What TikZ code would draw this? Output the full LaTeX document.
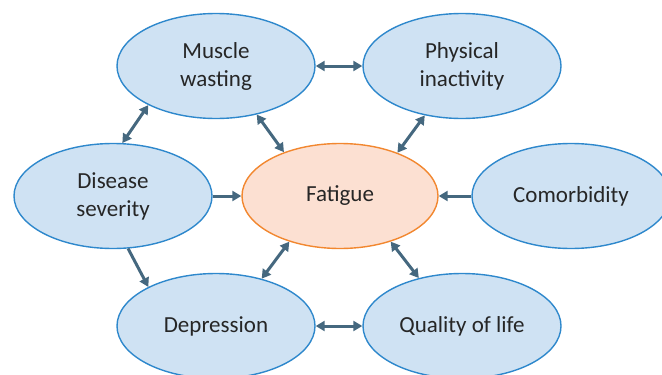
\documentclass[tikz,border=0pt]{standalone}
\usepackage{fontspec}
\setmainfont{Carlito}
\usetikzlibrary{arrows.meta,shapes.geometric}
\definecolor{bubblefill}{HTML}{CFE2F3}
\definecolor{bubbleline}{HTML}{2E88CC}
\definecolor{focusfill}{HTML}{FCE0D2}
\definecolor{focusline}{HTML}{F2872F}
\definecolor{linkcol}{HTML}{45687F}
\definecolor{textcol}{HTML}{262626}
\tikzset{
  bubble/.style={ellipse, draw=bubbleline, fill=bubblefill, line width=1.4pt,
    minimum width=198pt, minimum height=105pt, align=center, text=textcol,
    font=\fontsize{23}{28}\selectfont},
  focus/.style={bubble, draw=focusline, fill=focusfill, minimum width=196pt},
  link/.style={line width=3pt, draw=linkcol,
    {Triangle[length=9pt,width=10pt]}-{Triangle[length=9pt,width=10pt]}},
  cause/.style={line width=3pt, draw=linkcol, -{Triangle[length=9pt,width=10pt]}}
}
\begin{document}
\begin{tikzpicture}[x=1pt,y=-1pt]
  \clip (0,0) rectangle (662,375);
  \useasboundingbox (0,0) rectangle (662,375);

  % Factors
  \node[bubble] (mw)  at (216,66)  {Muscle\\wasting};
  \node[bubble] (pi)  at (462,66)  {Physical\\inactivity};
  \node[bubble] (ds)  at (113,196) {Disease\\severity};
  \node[focus]  (fat) at (340,196) {Fatigue};
  \node[bubble] (cm)  at (571,196) {Comorbidity};
  \node[bubble] (dep) at (216,326) {Depression};
  \node[bubble] (qol) at (462,326) {Quality of life};

  % Two-way links
  \draw[link] (mw) -- (pi);
  \draw[link] (mw.210) -- (ds.80);
  \draw[link] (mw.310) -- (fat.142);
  \draw[link] (pi.233) -- (fat.37);
  \draw[link] (fat.222) -- (dep.46);
  \draw[link] (fat.318) -- (qol.132);
  \draw[link] (dep) -- (qol);

  % One-way links
  \draw[cause] (ds) -- (fat);
  \draw[cause] (cm) -- (fat);
  \draw[cause] (ds.286) -- (dep.150);
\end{tikzpicture}
\end{document}
